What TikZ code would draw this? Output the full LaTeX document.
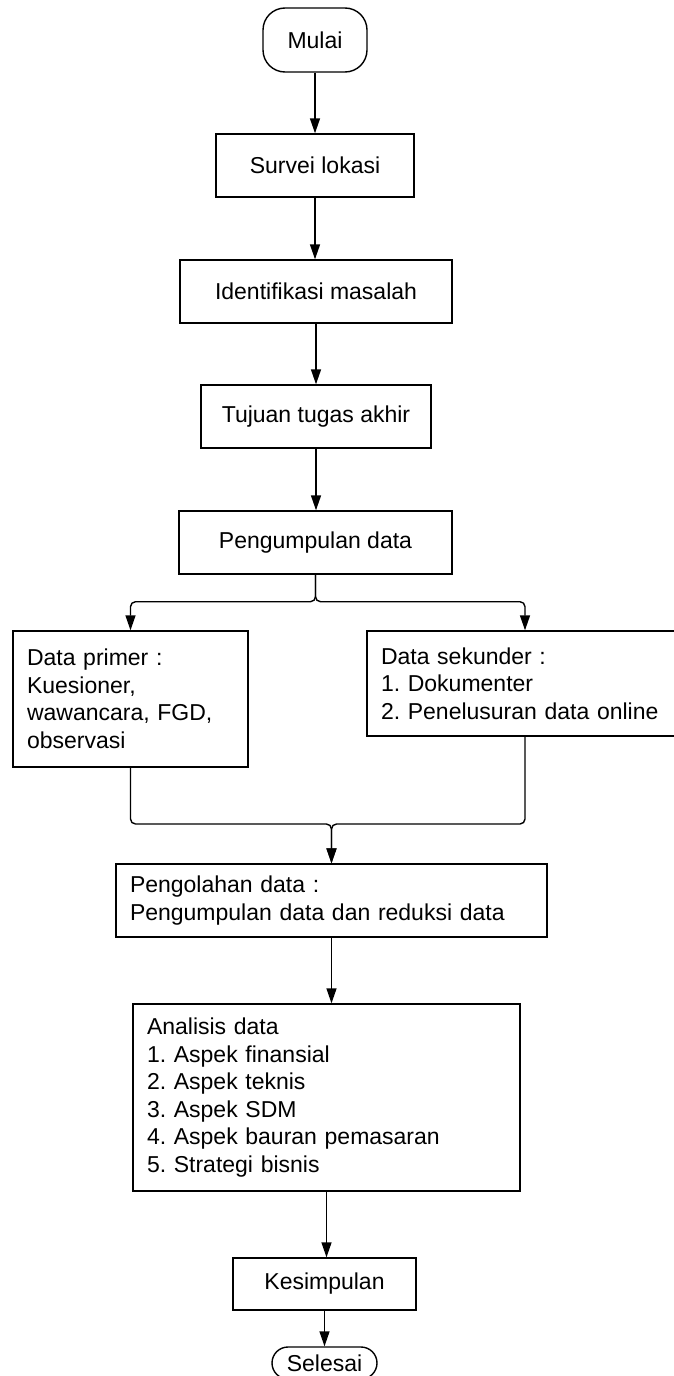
\documentclass[tikz,border=0pt]{standalone}
\usepackage{fontspec}
\setmainfont{Liberation Sans}
\usetikzlibrary{arrows.meta}

\begin{document}
\begin{tikzpicture}[x=0.5pt,y=-0.5pt,>={Triangle[length=7.5pt,width=5pt]},
  every node/.style={font=\fontsize{11.5pt}{13.75pt}\selectfont\frenchspacing},
  term/.style={draw,line width=0.7pt,rounded corners=#1,inner sep=0pt},
  box/.style={draw,line width=0.7pt,inner sep=0pt,minimum height=31.5pt},
  txtbox/.style={draw,line width=0.7pt,align=left,inner xsep=7pt,inner ysep=0pt},
  flow/.style={->,line width=0.7pt},
  fork/.style={->,line width=0.7pt,rounded corners=2.5pt}]
  \path[use as bounding box] (0,0) rectangle (674,1376);
  \clip (0,0) rectangle (674,1376);
  % start and first steps
  \node[term=11pt,minimum width=52pt,minimum height=32pt] (mulai) at (315,40) {Mulai};
  \node[box,minimum width=99pt] (survei) at (315,165.5) {Survei lokasi};
  \node[box,minimum width=136pt] (identifikasi) at (316,291.5) {Identifikasi masalah};
  \node[box,minimum width=115pt] (tujuan) at (316,416.5) {Tujuan tugas akhir};
  \node[box,minimum width=136.5pt] (kumpul) at (315.5,542.5) {Pengumpulan data};
  % data sources
  \node[txtbox,text width=103.5pt,minimum height=68pt] (primer) at (130.5,699)
    {Data primer :\\Kuesioner,\\wawancara, FGD,\\observasi};
  \node[txtbox,text width=144pt,minimum height=52.5pt] (sekunder) at (525,683.5)
    {Data sekunder :\\1. Dokumenter\\2. Penelusuran data online};
  % processing and analysis
  \node[txtbox,text width=201.5pt,minimum height=36.5pt] (olah) at (331.5,900.5)
    {Pengolahan data :\\Pengumpulan data dan reduksi data};
  \node[txtbox,text width=179.5pt,minimum height=93.5pt] (analisis) at (326.5,1097.5)
    {Analisis data\\1. Aspek finansial\\2. Aspek teknis\\3. Aspek SDM\\4. Aspek bauran pemasaran\\5. Strategi bisnis};
  \node[box,minimum width=91.5pt,minimum height=26pt] (simpul) at (324.5,1284) {Kesimpulan};
  \node[term=8pt,minimum width=52.5pt,minimum height=16pt] (selesai) at (324.5,1363) {Selesai};
  % main column
  \draw[flow] (mulai.south) -- (mulai.south |- survei.north);
  \draw[flow] (survei.south) -- (survei.south |- identifikasi.north);
  \draw[flow] (identifikasi.south) -- (identifikasi.south |- tujuan.north);
  \draw[flow] (tujuan.south) -- (tujuan.south |- kumpul.north);
  % fork and merge
  \draw[fork] (kumpul.south) -- ++(0,27) -| (primer.north);
  \draw[fork] (kumpul.south) -- ++(0,27) -| (sekunder.north);
  \coordinate (join) at (331.5,824);
  \draw[fork] (primer.south) |- (join) -- (olah.north);
  \draw[fork] (sekunder.south) |- (join) -- (olah.north);
  % lower column
  \draw[flow] (olah.south) -- (olah.south |- analisis.north);
  \draw[flow] (analisis.south) -- (analisis.south |- simpul.north);
  \draw[flow] (simpul.south) -- (simpul.south |- selesai.north);
\end{tikzpicture}
\end{document}
